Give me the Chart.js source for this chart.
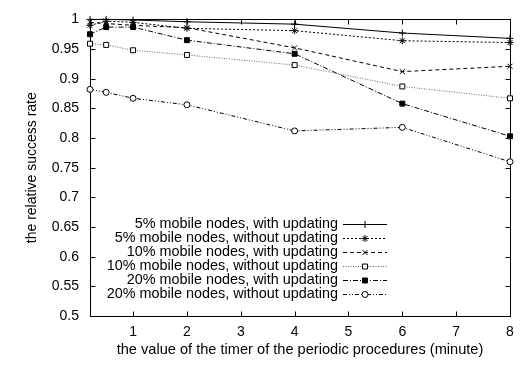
<!DOCTYPE html>
<html>
<head>
<meta charset="utf-8">
<script src="https://cdn.jsdelivr.net/npm/chart.js@4/dist/chart.umd.min.js"></script>
<style>
html,body{margin:0;padding:0;background:#fff;}
#wrap{width:522px;height:369px;}
</style>
</head>
<body>
<div id="wrap"><canvas id="c" width="522" height="369"></canvas></div>
<script>
const xValues = [0.2, 0.5, 1, 2, 4, 6, 8];
const xTicks = [1, 2, 3, 4, 5, 6, 7, 8];
const yTicks = [0.5, 0.55, 0.6, 0.65, 0.7, 0.75, 0.8, 0.85, 0.9, 0.95, 1];
const seriesLabels = [
  "5% mobile nodes, with updating",
  "5% mobile nodes, without updating",
  "10% mobile nodes, with updating",
  "10% mobile nodes, without updating",
  "20% mobile nodes, with updating",
  "20% mobile nodes, without updating"
];
const s5With     = [1.0, 1.0, 0.999, 0.996, 0.992, 0.977, 0.968];
const s5Without  = [0.99, 0.997, 0.995, 0.985, 0.981, 0.964, 0.961];
const s10With    = [0.995, 0.993, 0.99, 0.986, 0.952, 0.912, 0.921];
const s10Without = [0.959, 0.957, 0.948, 0.94, 0.923, 0.887, 0.867];
const s20With    = [0.975, 0.987, 0.987, 0.965, 0.942, 0.858, 0.803];
const s20Without = [0.882, 0.877, 0.867, 0.856, 0.812, 0.818, 0.76];

const seriesValues = [s5With, s5Without, s10With, s10Without, s20With, s20Without];
const styles = [
  {dash: [], color: '#000', point: 'cross', fill: '#000', r: 3.5},
  {dash: [2, 2], color: '#000', point: 'star', fill: '#000', r: 3.5},
  {dash: [4, 3], color: '#000', point: 'crossRot', fill: '#000', r: 3.5},
  {dash: [1, 1.5], color: '#666', point: 'rect', fill: '#fff', r: 3.5},
  {dash: [5, 2, 1, 2], color: '#000', point: 'rect', fill: '#000', r: 3.5},
  {dash: [4, 2, 1, 2, 1, 2], color: '#000', point: 'circle', fill: '#fff', r: 3}
];

const FONT = "'Liberation Sans', Arial, Helvetica, sans-serif";

const datasets = seriesValues.map((vals, i) => ({
  label: seriesLabels[i],
  data: xValues.map((x, j) => ({x: x, y: vals[j]})),
  borderColor: styles[i].color,
  borderWidth: 1,
  borderDash: styles[i].dash,
  pointStyle: styles[i].point,
  pointRadius: styles[i].r,
  pointBorderColor: '#000',
  pointBackgroundColor: styles[i].fill,
  pointBorderWidth: 1,
  tension: 0,
  fill: false,
  clip: false
}));

const framePlugin = {
  id: 'frame',
  beforeDatasetsDraw(chart) {
    const ctx = chart.ctx;
    const a = chart.chartArea;
    const xs = chart.scales.x, ys = chart.scales.y;
    ctx.save();
    ctx.strokeStyle = '#000';
    ctx.lineWidth = 1;
    ctx.setLineDash([]);
    const L = Math.round(a.left) + 0.5, R = Math.round(a.right) + 0.5;
    const T = Math.round(a.top) + 0.5, B = Math.round(a.bottom) + 0.5;
    ctx.strokeRect(L, T, R - L, B - T);
    const tl = 5;
    ctx.beginPath();
    xs.ticks.forEach(t => {
      const px = Math.round(xs.getPixelForValue(t.value)) + 0.5;
      ctx.moveTo(px, B); ctx.lineTo(px, B - tl);
      ctx.moveTo(px, T); ctx.lineTo(px, T + tl);
    });
    ys.ticks.forEach(t => {
      const py = Math.round(ys.getPixelForValue(t.value)) + 0.5;
      ctx.moveTo(L, py); ctx.lineTo(L + tl, py);
      ctx.moveTo(R, py); ctx.lineTo(R - tl, py);
    });
    ctx.stroke();
    ctx.restore();
  },
  afterDatasetsDraw(chart) {
    const ctx = chart.ctx;
    ctx.save();
    ctx.font = '14.4px ' + FONT;
    ctx.textAlign = 'right';
    ctx.textBaseline = 'middle';
    chart.data.datasets.forEach((ds, i) => {
      const y = 224 + i * 14 + 0.5;
      ctx.fillStyle = '#000';
      ctx.fillText(ds.label, 338, y);
      ctx.strokeStyle = ds.borderColor;
      ctx.lineWidth = 1;
      ctx.setLineDash(ds.borderDash);
      ctx.beginPath();
      ctx.moveTo(343, y); ctx.lineTo(387, y);
      ctx.stroke();
      ctx.setLineDash([]);
      ctx.strokeStyle = '#000';
      ctx.fillStyle = ds.pointBackgroundColor;
      ctx.lineWidth = 1;
      Chart.helpers.drawPoint(ctx, {pointStyle: ds.pointStyle, radius: ds.pointRadius, rotation: 0, borderWidth: 1}, 365, y);
    });
    ctx.restore();
  }
};

new Chart(document.getElementById('c'), {
  type: 'line',
  data: {datasets: datasets},
  options: {
    responsive: false,
    animation: false,
    events: [],
    layout: {padding: {left: 0, right: 12, top: 8, bottom: 0}},
    plugins: {legend: {display: false}, tooltip: {enabled: false}, title: {display: false}},
    scales: {
      x: {
        type: 'linear',
        min: 0.2,
        max: 8,
        grid: {display: false, drawTicks: false},
        border: {display: false},
        afterBuildTicks(scale) { scale.ticks = xTicks.map(v => ({value: v})); },
        afterFit(scale) { scale.height = 53; },
        ticks: {
          color: '#000',
          font: {family: FONT, size: 14},
          padding: 8,
          maxRotation: 0,
          autoSkip: false,
          callback: v => String(v)
        },
        title: {
          display: true,
          text: 'the value of the timer of the periodic procedures (minute)',
          color: '#000',
          font: {family: FONT, size: 14.6},
          padding: {top: 0, bottom: 10}
        }
      },
      y: {
        type: 'linear',
        min: 0.5,
        max: 1,
        grid: {display: false, drawTicks: false},
        border: {display: false},
        afterBuildTicks(scale) { scale.ticks = yTicks.map(v => ({value: v})); },
        afterFit(scale) { scale.width = 90; },
        ticks: {
          color: '#000',
          font: {family: FONT, size: 14},
          padding: 11,
          autoSkip: false,
          callback: v => String(Math.round(v * 100) / 100)
        },
        title: {
          display: true,
          text: 'the relative success rate',
          color: '#000',
          font: {family: FONT, size: 14},
          padding: {top: 24, bottom: 0}
        }
      }
    }
  },
  plugins: [framePlugin]
});
</script>
</body>
</html>
